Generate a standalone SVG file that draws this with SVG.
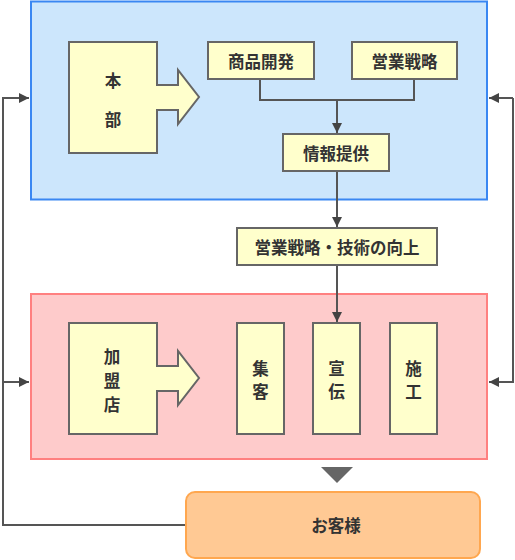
<svg xmlns="http://www.w3.org/2000/svg" width="515" height="560" viewBox="0 0 515 560">
<defs>
<style>
.node{fill:#ffffcc;stroke:#666;stroke-width:2}
.t{font-family:"Noto Sans CJK JP","Noto Sans",sans-serif;font-size:16.5px;font-weight:bold;fill:#333;text-anchor:middle;dominant-baseline:central}
.c{fill:none;stroke:#555;stroke-width:2}
</style>
<marker id="ah" viewBox="0 0 10 10" refX="10" refY="5" markerWidth="10" markerHeight="10" markerUnits="userSpaceOnUse" orient="auto">
<path d="M0,0 L10,5 L0,10 Z" fill="#444"/>
</marker>
</defs>
<g id="honbu-area">
<rect x="31" y="1.5" width="456" height="198" fill="#cce6fc" stroke="#3a87f2" stroke-width="2"/>
</g>
<g id="kameiten-area">
<rect x="31" y="294" width="456" height="165" fill="#fecbcb" stroke="#ff8080" stroke-width="2"/>
</g>
<g id="connectors">
<polyline class="c" points="260,79 260,100 414,100 414,79"/>
<line class="c" x1="337" y1="100" x2="337" y2="133" marker-end="url(#ah)"/>
<line class="c" x1="337" y1="171" x2="337" y2="227" marker-end="url(#ah)"/>
<line class="c" x1="337" y1="265" x2="337" y2="322" marker-end="url(#ah)"/>
<polyline class="c" points="186,525 3,525 3,98 29,98" marker-end="url(#ah)"/>
<line class="c" x1="3" y1="382" x2="29" y2="382" marker-end="url(#ah)"/>
<polyline class="c" points="513,98 513,382 489,382" marker-end="url(#ah)"/>
<line class="c" x1="513" y1="98" x2="489" y2="98" marker-end="url(#ah)"/>
<polygon points="321,467 353,467 337,483" fill="#666"/>
</g>
<g id="honbu">
<polygon class="node" points="69,42 157,42 157,85 178,85 178,70 199,97 178,124 178,110 157,110 157,153 69,153"/>
<text class="t" x="113" y="80">本</text>
<text class="t" x="113" y="119">部</text>
</g>
<g id="shohin">
<rect class="node" x="208" y="42" width="106" height="37"/>
<text class="t" x="261" y="61">商品開発</text>
</g>
<g id="eigyo">
<rect class="node" x="352" y="42" width="105" height="37"/>
<text class="t" x="404.5" y="61">営業戦略</text>
</g>
<g id="joho">
<rect class="node" x="283" y="134" width="106" height="37"/>
<text class="t" x="336" y="153">情報提供</text>
</g>
<g id="koujou">
<rect class="node" x="237" y="228" width="200" height="37"/>
<text class="t" x="337" y="247">営業戦略・技術の向上</text>
</g>
<g id="kameiten">
<polygon class="node" points="69,323 157,323 157,366 178,366 178,351 199,378 178,405 178,391 157,391 157,434 69,434"/>
<text class="t" x="112" y="356">加</text>
<text class="t" x="112" y="380">盟</text>
<text class="t" x="112" y="404">店</text>
</g>
<g id="shukyaku">
<rect class="node" x="237" y="323" width="47" height="111"/>
<text class="t" x="260.5" y="368">集</text>
<text class="t" x="260.5" y="391">客</text>
</g>
<g id="senden">
<rect class="node" x="313" y="323" width="47" height="111"/>
<text class="t" x="336.5" y="368">宣</text>
<text class="t" x="336.5" y="391">伝</text>
</g>
<g id="seko">
<rect class="node" x="390" y="323" width="47" height="111"/>
<text class="t" x="413.5" y="368">施</text>
<text class="t" x="413.5" y="391">工</text>
</g>
<g id="okyakusama">
<rect x="186" y="492" width="294" height="66" rx="9" fill="#ffc994" stroke="#ffa74f" stroke-width="2"/>
<text class="t" x="336" y="525">お客様</text>
</g>
</svg>
